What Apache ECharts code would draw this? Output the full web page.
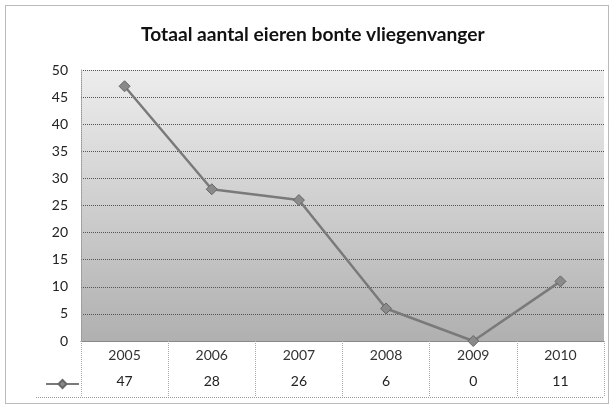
<!DOCTYPE html>
<html><head><meta charset="utf-8">
<script src="https://cdn.jsdelivr.net/npm/echarts@6/dist/echarts.min.js"></script>
<style>html,body{margin:0;padding:0;background:#fff}#c{width:614px;height:408px}</style>
</head><body><div id="c"></div>
<script>
const title = 'Totaal aantal eieren bonte vliegenvanger';
const categories = ['2005', '2006', '2007', '2008', '2009', '2010'];
const values = [47, 28, 26, 6, 0, 11];
const yTicks = [0, 5, 10, 15, 20, 25, 30, 35, 40, 45, 50];

const FONT = 'Lato';
const chart = echarts.init(document.getElementById('c'), null, {renderer: 'canvas'});
chart.setOption({
  animation: false,
  backgroundColor: '#fff',
  title: {
    text: title, left: 141, top: 25, padding: 0,
    textStyle: {fontFamily: FONT, fontSize: 19.2, fontWeight: 'bold', color: '#111'}
  },
  legend: {
    data: ['eieren'], left: 40, top: 374, itemWidth: 33, itemHeight: 10,
    formatter: () => '', textStyle: {fontSize: 1},
    itemStyle: {color: '#8a8a8a'}
  },
  grid: {
    left: 81, right: 10, top: 70, bottom: 67, show: true, borderWidth: 0,
    backgroundColor: new echarts.graphic.LinearGradient(0, 0, 0, 1, [
      {offset: 0, color: '#ededed'}, {offset: 1, color: '#b0b0b0'}
    ])
  },
  xAxis: [{
    type: 'category', data: categories, position: 'bottom',
    axisLine: {show: true, lineStyle: {color: '#888', width: 1}},
    axisTick: {show: true, interval: 0, length: 56, lineStyle: {color: '#aaa', type: 'dotted'}},
    axisLabel: {margin: 7, fontFamily: FONT, fontSize: 14, color: '#333'}
  }, {
    type: 'category', data: values.map(String), position: 'bottom', offset: 26,
    axisLine: {show: false}, axisTick: {show: false},
    axisLabel: {margin: 7, fontFamily: FONT, fontSize: 14, color: '#222'}
  }],
  yAxis: {
    type: 'value', min: 0, max: 50, interval: 5,
    axisLine: {show: true, lineStyle: {color: '#999', type: 'dotted'}},
    axisTick: {show: false},
    axisLabel: {margin: 13, fontFamily: FONT, fontSize: 14, color: '#222',
      formatter: v => yTicks.includes(v) ? String(v) : ''},
    splitLine: {show: true, lineStyle: {color: '#555', type: 'dotted', width: 1}}
  },
  series: [{
    name: 'eieren', type: 'line', data: values, xAxisIndex: 0,
    symbol: 'diamond', symbolSize: 11,
    lineStyle: {color: '#7a7a7a', width: 2.5},
    itemStyle: {color: '#8a8a8a', borderColor: '#666', borderWidth: 1}
  }],
  graphic: [
    {type: 'rect', shape: {x: 5.5, y: 5.5, width: 603, height: 398},
     style: {fill: null, stroke: '#777', lineWidth: 1, lineDash: [1, 1]}, silent: true},
    {type: 'line', shape: {x1: 36, y1: 397.5, x2: 604, y2: 397.5},
     style: {stroke: '#999', lineWidth: 1, lineDash: [1, 1]}, silent: true}
  ]
});
</script></body></html>
